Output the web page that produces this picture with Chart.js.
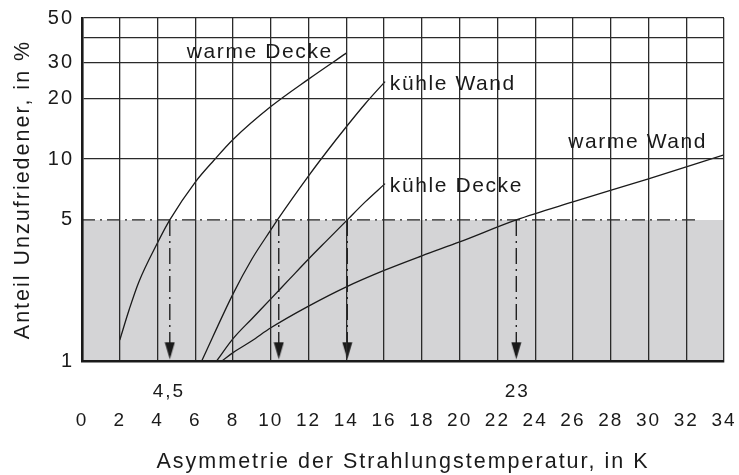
<!DOCTYPE html>
<html>
<head>
<meta charset="utf-8">
<script src="https://cdn.jsdelivr.net/npm/chart.js@4.4.1/dist/chart.umd.min.js"></script>
<style>
  html, body { margin: 0; padding: 0; background: #fff; }
  canvas { display: block; }
</style>
</head>
<body>
<canvas id="chart" width="739" height="475"></canvas>
<script>
// DATA
const xTicks = [0, 2, 4, 6, 8, 10, 12, 14, 16, 18, 20, 22, 24, 26, 28, 30, 32, 34];
const yTicks = [1, 5, 10, 20, 30, 40, 50];
const yTickLabels = ['1', '5', '10', '20', '30', '', '50'];

const warmeDeckeX = [2, 2.5, 3, 4, 4.65, 6, 7, 8, 10, 12, 14];
const warmeDeckeY = [1.27, 1.8, 2.45, 3.85, 5, 7.7, 9.9, 12.5, 18.2, 24.9, 33.5];

const kuehleWandX = [6.34, 8, 9, 10, 10.35, 12, 13, 14, 15, 16.05];
const kuehleWandY = [1, 2.15, 3.2, 4.46, 5, 8.26, 11.0, 14.46, 18.8, 24.2];

const kuehleDeckeX = [7.13, 8, 9, 10, 11, 12, 13, 14.05, 15, 16.05];
const kuehleDeckeY = [1, 1.29, 1.62, 2.03, 2.55, 3.2, 3.98, 5, 6.14, 7.56];

const warmeWandX = [7.4, 8, 9, 10, 12, 14, 16, 18, 20, 23, 26, 30, 34];
const warmeWandY = [1, 1.1, 1.26, 1.46, 1.87, 2.33, 2.81, 3.32, 3.89, 5, 6.14, 7.98, 10.5];

const limitY = 5;            // 5 % line
const limitEndX = 32.6;
const arrowXs = [4.65, 10.42, 14.05, 23];
const arrowTipY = 1.02;

const curveLabels = ['warme Decke', 'kühle Wand', 'kühle Decke', 'warme Wand'];
const curveLabelX = [5.55, 16.3, 16.3, 25.75];
const curveLabelY = [31.7, 22.1, 6.9, 11.3];

const markLabels = ['4,5', '23'];
const markLabelX = [4.55, 23];

const FONT = '"Liberation Sans", Arial, sans-serif';
const INK = '#1a1a1a';

function pts(xs, ys) { return xs.map((x, i) => ({ x: x, y: ys[i] })); }

// ARROW HEAD (tip sits at the image centre)
const arrowImg = document.createElement('canvas');
arrowImg.width = 11; arrowImg.height = 38;
(function () {
  const c = arrowImg.getContext('2d');
  c.fillStyle = INK;
  c.beginPath();
  c.moveTo(0.5, 2); c.lineTo(10.5, 2); c.lineTo(5.5, 19); c.closePath();
  c.fill();
})();

function curve(xs, ys) {
  return {
    data: pts(xs, ys), borderColor: INK, borderWidth: 1.3, pointRadius: 0, order: 0,
    cubicInterpolationMode: 'monotone', fill: false
  };
}

const datasets = [
  // grey band 1..5 %
  { data: [{ x: 0, y: limitY }, { x: 34, y: limitY }], fill: 'start', backgroundColor: '#d4d4d6',
    borderWidth: 0, pointRadius: 0, order: 100 },
  // dash-dot 5 % line
  { data: [{ x: 0, y: limitY }, { x: limitEndX, y: limitY }], borderColor: '#222', borderWidth: 1.4,
    borderDash: [13, 5, 2, 5], pointRadius: 0, fill: false, order: 50 },
  curve(warmeDeckeX, warmeDeckeY),
  curve(kuehleWandX, kuehleWandY),
  curve(kuehleDeckeX, kuehleDeckeY),
  curve(warmeWandX, warmeWandY)
];

arrowXs.forEach(ax => {
  datasets.push({
    data: [{ x: ax, y: limitY }, { x: ax, y: arrowTipY }],
    borderColor: '#222', borderWidth: 1.4, borderDash: [16, 5, 2, 5], fill: false, order: 10,
    pointRadius: c => c.dataIndex === 1 ? 6 : 0,
    pointStyle: c => c.dataIndex === 1 ? arrowImg : 'circle'
  });
});

// TEXT ON THE PLOT
const labelPlugin = {
  id: 'labels',
  beforeDraw(chart) { chart.ctx.letterSpacing = '2px'; },
  afterDraw(chart) {
    const ctx = chart.ctx;
    const xs = chart.scales.x, ys = chart.scales.y;
    ctx.save();
    ctx.letterSpacing = '1.6px';
    ctx.fillStyle = INK;
    ctx.font = '21px ' + FONT;
    ctx.textAlign = 'left';
    ctx.textBaseline = 'alphabetic';
    curveLabels.forEach((t, i) => {
      ctx.fillText(t, xs.getPixelForValue(curveLabelX[i]), ys.getPixelForValue(curveLabelY[i]));
    });
    ctx.letterSpacing = '2px';
    ctx.font = '19px ' + FONT;
    ctx.textAlign = 'center';
    markLabels.forEach((t, i) => {
      ctx.fillText(t, xs.getPixelForValue(markLabelX[i]) + 1, chart.chartArea.bottom + 36);
    });
    ctx.restore();
    ctx.letterSpacing = '0px';
  }
};

new Chart(document.getElementById('chart'), {
  type: 'line',
  data: { datasets: datasets },
  plugins: [labelPlugin],
  options: {
    responsive: false,
    animation: false,
    events: [],
    layout: { autoPadding: false, padding: { left: 0, right: 15, top: 18, bottom: 0 } },
    plugins: { legend: { display: false }, tooltip: { enabled: false } },
    scales: {
      x: {
        type: 'linear', min: 0, max: 34,
        afterBuildTicks: s => { s.ticks = xTicks.map(v => ({ value: v })); },
        afterFit: s => { s.height = 114; s.paddingLeft = 0; s.paddingRight = 0; },
        grid: { color: '#2a2a2a', lineWidth: 1.3, drawTicks: false, z: 1 },
        border: { display: true, color: INK, width: 2.6, z: 2 },
        ticks: { autoSkip: false, maxRotation: 0, padding: 48, color: INK, font: { family: FONT, size: 19 } },
        title: { display: true, text: 'Asymmetrie der Strahlungstemperatur, in K', color: INK,
                 font: { family: FONT, size: 21.5 }, padding: { top: 0, bottom: 0 } }
      },
      y: {
        type: 'logarithmic', min: 1, max: 50,
        afterBuildTicks: s => { s.ticks = yTicks.map(v => ({ value: v })); },
        afterFit: s => { s.width = 82; s.paddingTop = 0; s.paddingBottom = 0; },
        grid: {
          drawTicks: false, lineWidth: 1.3, z: 1,
          color: c => (c.tick && (c.tick.value === 1 || c.tick.value === 5)) ? 'rgba(0,0,0,0)' : '#2a2a2a'
        },
        border: { display: true, color: INK, width: 2.6, z: 2 },
        ticks: {
          autoSkip: false, padding: 8, color: INK, font: { family: FONT, size: 20 },
          callback: (v, i) => yTickLabels[i]
        },
        title: { display: true, text: 'Anteil Unzufriedener, in %', color: INK,
                 font: { family: FONT, size: 21.5 }, padding: { top: 10, bottom: 0 } }
      }
    }
  }
});
</script>
</body>
</html>
